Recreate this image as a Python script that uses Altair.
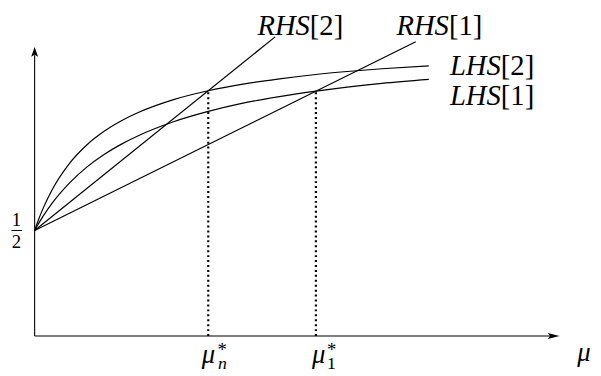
import altair as alt
import pandas as pd

# ---- data (x: mu units, y: value units, 1/2 = 0.5) ----
mu_grid = [0, 0.008, 0.02, 0.05, 0.1, 0.2, 0.3, 0.4, 0.5, 0.6, 0.8, 1.0, 1.2, 1.4, 1.62, 1.8, 2.0, 2.27]
lhs2 = [0.5, 0.519, 0.546, 0.607, 0.692, 0.817, 0.905, 0.970, 1.020, 1.060, 1.120, 1.162, 1.193, 1.217, 1.239, 1.253, 1.266, 1.280]
lhs1 = [0.5, 0.512, 0.529, 0.569, 0.628, 0.724, 0.800, 0.860, 0.909, 0.950, 1.015, 1.064, 1.103, 1.133, 1.160, 1.179, 1.197, 1.216]

rhs2_mu = [0, 1.385]
rhs2 = [0.5, 1.417]
rhs1_mu = [0, 2.195]
rhs1 = [0.5, 1.394]

mu_star = [1.0, 1.62]
mu_star_top = [1.162, 1.160]

XDOM = [-0.1534, 3.2159]
YDOM = [-0.17757, 1.5421]

X = lambda f="mu": alt.X(f"{f}:Q", scale=alt.Scale(domain=XDOM, nice=False, zero=False), axis=None)
Y = lambda f="y": alt.Y(f"{f}:Q", scale=alt.Scale(domain=YDOM, nice=False, zero=False), axis=None)

curves = pd.concat([
    pd.DataFrame({"mu": mu_grid, "y": lhs2, "s": "LHS2"}),
    pd.DataFrame({"mu": mu_grid, "y": lhs1, "s": "LHS1"}),
    pd.DataFrame({"mu": rhs2_mu, "y": rhs2, "s": "RHS2"}),
    pd.DataFrame({"mu": rhs1_mu, "y": rhs1, "s": "RHS1"}),
])

lines = alt.Chart(curves).mark_line(interpolate="monotone", color="black", strokeWidth=1.2).encode(
    x=X(), y=Y(), detail="s:N"
)

dots = alt.Chart(pd.DataFrame({"mu": mu_star, "top": mu_star_top, "y": [0, 0]})).mark_rule(
    color="black", strokeWidth=2.2, strokeDash=[2, 3]
).encode(x=X(), y=Y(), y2="top:Q")

# axes
yaxis = alt.Chart(pd.DataFrame({"mu": [0], "y": [0], "y2": [1.33]})).mark_rule(
    color="black", strokeWidth=1.1).encode(x=X(), y=Y(), y2="y2:Q")
xaxis = alt.Chart(pd.DataFrame({"mu": [0], "mu2": [2.98], "y": [0]})).mark_rule(
    color="black", strokeWidth=1.1).encode(x=X(), x2="mu2:Q", y=Y())
yarrow = alt.Chart(pd.DataFrame({"mu": [0], "y": [1.346]})).mark_point(
    shape="M0,-1L0.7,1L0,0.6L-0.7,1Z", filled=True, color="black", opacity=1, size=100
).encode(x=X(), y=Y())
xarrow = alt.Chart(pd.DataFrame({"mu": [2.989], "y": [0]})).mark_point(
    shape="M1,0L-1,-0.5L-0.6,0L-1,0.5Z", filled=True, color="black", opacity=1, size=144
).encode(x=X(), y=Y())

FONT = "Liberation Serif"

# italic, right aligned: curve names
names = pd.DataFrame({
    "mu": [1.585, 2.386, 2.685, 2.685],
    "y": [1.425, 1.425, 1.238, 1.095],
    "t": ["RHS", "RHS", "LHS", "LHS"],
})
names_t = alt.Chart(names).mark_text(font=FONT, fontStyle="italic", fontSize=29, align="right",
                                     baseline="alphabetic", color="black").encode(x=X(), y=Y(), text="t:N")
brackets = pd.DataFrame({
    "mu": [1.585, 2.386, 2.685, 2.685, 1.053, 1.684, 1.684],
    "y": [1.425, 1.425, 1.238, 1.095, -0.0935, -0.0935, -0.154],
    "t": ["[2]", "[1]", "[2]", "[1]", "*", "*", "1"],
    "fs": [29, 29, 29, 29, 19, 19, 18],
})
brackets_t = alt.Chart(brackets).mark_text(font=FONT, align="left", baseline="alphabetic", color="black").encode(
    x=X(), y=Y(), text="t:N", size=alt.Size("fs:Q", scale=None, legend=None))

ital = pd.DataFrame({
    "mu": [0.963, 1.598, 3.125, 1.056],
    "y": [-0.126, -0.126, -0.117, -0.154],
    "t": ["μ", "μ", "μ", "n"],
    "fs": [27, 27, 27, 18],
})
ital_t = alt.Chart(ital).mark_text(font=FONT, fontStyle="italic", align="left", baseline="alphabetic",
                                   color="black").encode(
    x=X(), y=Y(), text="t:N", size=alt.Size("fs:Q", scale=None, legend=None))

frac = pd.DataFrame({"mu": [-0.105, -0.105], "y": [0.519, 0.416], "t": ["1", "2"]})
frac_t = alt.Chart(frac).mark_text(font=FONT, fontSize=19, align="center", baseline="alphabetic",
                                   color="black").encode(x=X(), y=Y(), text="t:N")
frac_bar = alt.Chart(pd.DataFrame({"mu": [-0.134], "mu2": [-0.073], "y": [0.5]})).mark_rule(
    color="black", strokeWidth=1).encode(x=X(), x2="mu2:Q", y=Y())

chart = alt.layer(
    lines, dots, yaxis, xaxis, yarrow, xarrow, names_t, brackets_t, ital_t, frac_t, frac_bar
).properties(
    width=593, height=368, padding=0, autosize=alt.AutoSizeParams(type="none"), background="white"
).configure_view(stroke=None)

chart.save("out.html", embed_options={"renderer": "svg", "actions": False})
